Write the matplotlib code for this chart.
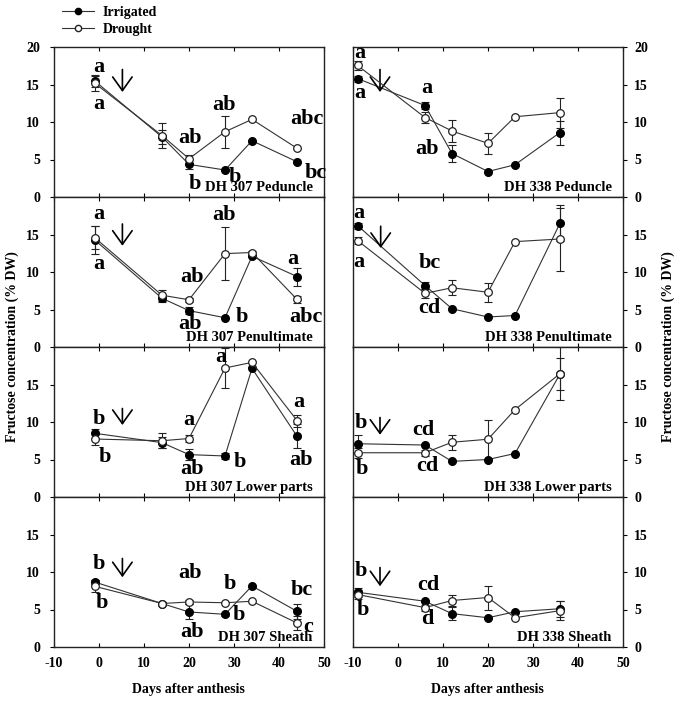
import matplotlib
matplotlib.use("Agg")
import matplotlib.pyplot as plt
from matplotlib.lines import Line2D

plt.rcParams['font.family'] = ['Liberation Serif', 'DejaVu Serif']
plt.rcParams['font.weight'] = 'bold'
plt.rcParams['axes.unicode_minus'] = False

# ---------------- data ----------------
x_307 = [-1, 14, 20, 28, 34, 44]
x_338 = [-9, 6, 12, 20, 26, 36]

ped307_irr = [15.5, 8.0, 4.35, 3.6, 7.5, 4.7]
ped307_dro = [15.2, 8.2, 5.1, 8.7, 10.35, 6.5]
ped307_irr_err = [0.8, 0.9, 0.6, 0, 0, 0]
ped307_dro_err = [1.0, 1.7, 0.5, 2.15, 0, 0]

ped338_irr = [15.8, 12.2, 5.8, 3.4, 4.3, 8.6]
ped338_dro = [17.55, 10.6, 8.8, 7.15, 10.7, 11.25]
ped338_irr_err = [0.4, 0.5, 1.15, 0, 0, 1.6]
ped338_dro_err = [0.6, 0.7, 1.4, 1.35, 0, 2.0]

pen307_irr = [14.3, 6.5, 4.85, 3.9, 12.1, 9.4]
pen307_dro = [14.6, 6.9, 6.3, 12.45, 12.6, 6.35]
pen307_irr_err = [1.9, 0.5, 0.5, 0, 0, 1.2]
pen307_dro_err = [1.5, 0.7, 0.3, 3.5, 0.2, 0.5]

pen338_irr = [16.2, 8.2, 5.1, 4.0, 4.2, 16.5]
pen338_dro = [14.2, 7.15, 7.9, 7.3, 14.05, 14.4]
pen338_irr_err = [0.4, 0.5, 0, 0, 0, 2.4]
pen338_dro_err = [0.5, 0.6, 1.0, 1.3, 0, 4.2]

low307_irr = [8.5, 7.25, 5.65, 5.47, 17.15, 8.1]
low307_dro = [7.73, 7.5, 7.8, 17.2, 17.95, 10.2]
low307_irr_err = [0.6, 0.7, 0.7, 0.4, 0, 1.6]
low307_dro_err = [0.8, 1.0, 0.5, 2.7, 0, 0.8]

low338_irr = [7.1, 6.93, 4.75, 5.0, 5.8, 16.4]
low338_dro = [5.9, 5.9, 7.3, 7.7, 11.65, 16.45]
low338_irr_err = [1.2, 0, 0, 0, 0, 2.1]
low338_dro_err = [0.7, 0.4, 1.0, 2.6, 0, 3.5]

sh307_irr = [8.67, 5.8, 4.67, 4.36, 8.13, 4.76]
sh307_dro = [8.1, 5.8, 6.0, 5.9, 6.1, 3.2]
sh307_irr_err = [0.3, 0.2, 1.0, 0.2, 0, 1.0]
sh307_dro_err = [0.8, 0.2, 0.3, 0, 0, 0.9]

sh338_irr = [7.3, 6.1, 4.45, 3.9, 4.7, 5.1]
sh338_dro = [7.0, 5.25, 6.2, 6.6, 3.9, 4.85]
sh338_irr_err = [0.6, 0, 0.9, 0, 0, 1.1]
sh338_dro_err = [0.6, 0.4, 0.7, 1.6, 0, 1.3]

titles = ["DH 307 Peduncle", "DH 338 Peduncle",
          "DH 307 Penultimate", "DH 338 Penultimate",
          "DH 307 Lower parts", "DH 338 Lower parts",
          "DH 307 Sheath", "DH 338 Sheath"]

letters = [
    [(0, 17.4, "a"), (0, 12.4, "a"), (20.2, 7.9, "ab"), (21.2, 1.7, "b"),
     (27.8, 12.2, "ab"), (30.2, 2.7, "b"), (46.2, 10.4, "abc"), (48.1, 3.2, "bc")],
    [(-8.4, 19.15, "a"), (-8.4, 13.9, "a"), (6.5, 14.5, "a"), (6.5, 6.4, "ab")],
    [(0, 17.7, "a"), (0, 11.1, "a"), (20.6, 9.4, "ab"), (20.2, 3.1, "ab"),
     (27.8, 17.6, "ab"), (31.7, 3.95, "b"), (43.0, 11.7, "a"), (45.9, 3.95, "abc")],
    [(-8.6, 17.9, "a"), (-8.6, 11.4, "a"), (7.0, 11.2, "bc"), (7.0, 5.2, "cd")],
    [(0, 10.4, "b"), (1.2, 5.4, "b"), (20.0, 10.27, "a"), (20.6, 3.8, "ab"),
     (27.0, 18.7, "a"), (31.2, 4.7, "b"), (44.4, 12.7, "a"), (45.0, 4.9, "ab")],
    [(-8.3, 9.9, "b"), (-8.1, 3.8, "b"), (5.6, 8.9, "cd"), (6.5, 4.1, "cd")],
    [(0, 11.1, "b"), (0.6, 5.8, "b"), (20.2, 9.8, "ab"), (20.6, 2.0, "ab"),
     (29.1, 8.45, "b"), (31.0, 4.2, "b"), (45.0, 7.55, "bc"), (46.5, 2.7, "c")],
    [(-8.3, 10.1, "b"), (-7.7, 4.9, "b"), (6.7, 8.2, "cd"), (6.5, 3.8, "d")],
]

arrows = [(5.2, 17.0, 14.0), (-4, 17.0, 14.0),
          (5.2, 16.4, 13.5), (-3.85, 16.1, 13.2),
          (5.2, 11.8, 9.6), (-4, 10.6, 8.3),
          (5.2, 11.8, 9.3), (-4, 10.6, 8.1)]

panels = [
    (x_307, ped307_irr, ped307_irr_err, ped307_dro, ped307_dro_err),
    (x_338, ped338_irr, ped338_irr_err, ped338_dro, ped338_dro_err),
    (x_307, pen307_irr, pen307_irr_err, pen307_dro, pen307_dro_err),
    (x_338, pen338_irr, pen338_irr_err, pen338_dro, pen338_dro_err),
    (x_307, low307_irr, low307_irr_err, low307_dro, low307_dro_err),
    (x_338, low338_irr, low338_irr_err, low338_dro, low338_dro_err),
    (x_307, sh307_irr, sh307_irr_err, sh307_dro, sh307_dro_err),
    (x_338, sh338_irr, sh338_irr_err, sh338_dro, sh338_dro_err),
]

xticks = [-10, 0, 10, 20, 30, 40, 50]

# ---------------- figure ----------------
W, H = 681, 701
fig = plt.figure(figsize=(W / 100, H / 100), dpi=100)

lefts = [54, 353]
tops = [47, 197, 347, 497]
aw, ah = 270, 150
line_col = '#333333'


def errs(e):
    return [v if v > 0 else float('nan') for v in e]


for i, (xs, irr, irr_e, dro, dro_e) in enumerate(panels):
    r, c = divmod(i, 2)
    ax = fig.add_axes([lefts[c] / W, 1 - (tops[r] + ah) / H, aw / W, ah / H])
    ax.set_xlim(-10, 50)
    ax.set_ylim(0, 20)
    for sp in ax.spines.values():
        sp.set_linewidth(1.0)
        sp.set_color('#222222')

    ax.errorbar(xs, irr, yerr=errs(irr_e), fmt='none', ecolor='#222222',
                elinewidth=0.8, capsize=3, capthick=0.8, zorder=2)
    ax.errorbar(xs, dro, yerr=errs(dro_e), fmt='none', ecolor='#222222',
                elinewidth=0.8, capsize=3, capthick=0.8, zorder=2)
    ax.plot(xs, irr, '-', color=line_col, lw=0.8, marker='o', ms=5.5,
            mfc='black', mec='black', zorder=3)
    ax.plot(xs, dro, '-', color=line_col, lw=0.8, marker='o', ms=5.5,
            mfc='white', mec='#222222', mew=0.9, zorder=4)

    for (lx, ly, t) in letters[i]:
        ax.text(lx, ly, t, fontsize=16, fontweight='bold', ha='center',
                va='center', zorder=5)
    ax_x, y0, y1 = arrows[i]
    ax.annotate('', xy=(ax_x, y1), xytext=(ax_x, y0),
                arrowprops=dict(arrowstyle='->,head_length=0.7,head_width=0.5',
                                lw=1.2, color='black', mutation_scale=14,
                                shrinkA=0, shrinkB=0))
    ax.text(0.958, 0.065, titles[i], transform=ax.transAxes, fontsize=10.5,
            fontweight='bold', ha='right', va='center', zorder=5)

    ax.set_xticks(xticks)
    ax.tick_params(axis='x', direction='in', length=3, top=True, bottom=True,
                   labelsize=10, pad=7)
    if r < 3:
        ax.tick_params(axis='x', labelbottom=False)
    if r == 0:
        ax.set_yticks([0, 5, 10, 15, 20])
    else:
        ax.set_yticks([0, 5, 10, 15])
    if c == 0:
        ax.tick_params(axis='y', direction='out', length=3, left=True,
                       right=False, labelleft=True, labelright=False,
                       labelsize=10, pad=7)
    else:
        ax.tick_params(axis='y', direction='out', length=3, left=False,
                       right=True, labelleft=False, labelright=True,
                       labelsize=10, pad=5)
    for lab in ax.get_xticklabels() + ax.get_yticklabels():
        lab.set_fontweight('bold')

fig.text(0.018, 0.505, "Fructose concentration (% DW)", rotation=90,
         ha='center', va='center', fontsize=10, fontweight='bold')
fig.text(0.981, 0.505, "Fructose concentration (% DW)", rotation=90,
         ha='center', va='center', fontsize=10, fontweight='bold')
fig.text(188.7 / W, 1 - 690 / H, "Days after anthesis", ha='center',
         va='center', fontsize=10, fontweight='bold')
fig.text(487.8 / W, 1 - 690 / H, "Days after anthesis", ha='center',
         va='center', fontsize=10, fontweight='bold')

handles = [Line2D([], [], color=line_col, lw=0.8, marker='o', ms=4.5,
                  mfc='black', mec='black'),
           Line2D([], [], color=line_col, lw=0.8, marker='o', ms=4.5,
                  mfc='white', mec='#222222')]
leg = fig.legend(handles, ["Irrigated", "Drought"], loc='upper left',
                 bbox_to_anchor=(62 / W, 1 - 6 / H), frameon=False,
                 borderpad=0, borderaxespad=0, handlelength=2.3,
                 handletextpad=0.65, labelspacing=0.3,
                 prop={'size': 10, 'weight': 'bold'})

fig.savefig("out.png", dpi=100)
